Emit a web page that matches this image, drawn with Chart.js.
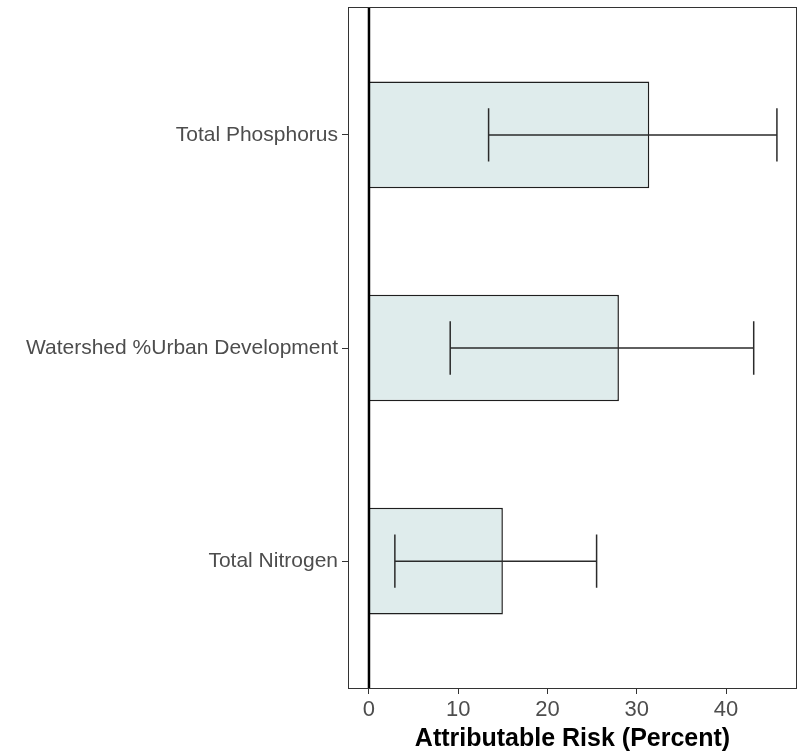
<!DOCTYPE html>
<html>
<head>
<meta charset="utf-8">
<script src="https://cdn.jsdelivr.net/npm/chart.js@4"></script>
<style>
  html, body { margin: 0; padding: 0; background: #fff; }
  #wrap { width: 798px; height: 752px; }
</style>
</head>
<body>
<div id="wrap"><canvas id="chart" width="798" height="752"></canvas></div>
<script>
// data
var categories = ['Total Phosphorus', 'Watershed %Urban Development', 'Total Nitrogen'];
var riskValues = [31.4, 28.0, 15.0];
var lowerValues = [13.4, 9.1, 2.9];
var upperValues = [45.7, 43.1, 25.5];
var xTicks = [0, 10, 20, 30, 40];
var xTitle = 'Attributable Risk (Percent)';

var FONT = '"Liberation Sans", Arial, sans-serif';

// panel border, zero line and error bars
var extras = {
    id: 'extras',
    afterDatasetsDraw: function (chart) {
        var ctx = chart.ctx;
        var xs = chart.scales.x;
        var ys = chart.scales.y;
        var area = chart.chartArea;

        ctx.save();

        // error bars
        ctx.strokeStyle = '#2b2b2b';
        ctx.lineWidth = 1.5;
        for (var i = 0; i < categories.length; i++) {
            var y = ys.getPixelForValue(i);
            var cap = Math.abs(ys.getPixelForValue(i + 0.125) - y);
            var x1 = xs.getPixelForValue(lowerValues[i]);
            var x2 = xs.getPixelForValue(upperValues[i]);
            ctx.beginPath();
            ctx.moveTo(x1, y);
            ctx.lineTo(x2, y);
            ctx.moveTo(x1, y - cap);
            ctx.lineTo(x1, y + cap);
            ctx.moveTo(x2, y - cap);
            ctx.lineTo(x2, y + cap);
            ctx.stroke();
        }

        // zero line
        var x0 = xs.getPixelForValue(0);
        ctx.strokeStyle = '#000';
        ctx.lineWidth = 2.5;
        ctx.beginPath();
        ctx.moveTo(x0, area.top);
        ctx.lineTo(x0, area.bottom);
        ctx.stroke();

        // panel border
        ctx.strokeStyle = '#333';
        ctx.lineWidth = 1;
        ctx.strokeRect(area.left + 0.5, area.top + 0.5, area.right - area.left - 1, area.bottom - area.top - 1);

        ctx.restore();
    }
};

var chart = new Chart(document.getElementById('chart').getContext('2d'), {
    type: 'bar',
    data: {
        datasets: [{
            data: riskValues.map(function (v, i) { return {x: v, y: i}; }),
            backgroundColor: '#dfecec',
            borderColor: '#1f1f1f',
            borderWidth: 1.5,
            categoryPercentage: 1,
            barPercentage: 0.5
        }]
    },
    options: {
        indexAxis: 'y',
        responsive: false,
        animation: false,
        devicePixelRatio: 1,
        layout: {padding: {top: 7, right: 1, left: 0, bottom: 0}},
        plugins: {
            legend: {display: false},
            tooltip: {enabled: false}
        },
        scales: {
            x: {
                type: 'linear',
                min: -2.35,
                max: 47.95,
                offset: false,
                afterBuildTicks: function (scale) {
                    scale.ticks = xTicks.map(function (v) { return {value: v}; });
                },
                afterFit: function (scale) {
                    scale.height = 63;
                    scale.paddingLeft = 0;
                    scale.paddingRight = 0;
                },
                border: {display: false},
                grid: {drawOnChartArea: false, drawTicks: true, tickLength: 5, tickColor: '#333', lineWidth: 1, offset: false},
                ticks: {
                    color: '#4d4d4d',
                    padding: 3,
                    maxRotation: 0,
                    font: {family: FONT, size: 22}
                },
                title: {
                    display: true,
                    text: xTitle,
                    color: '#000',
                    padding: {top: 0, bottom: -2},
                    font: {family: FONT, size: 25, weight: 'bold'}
                }
            },
            y: {
                type: 'linear',
                reverse: true,
                min: -0.6,
                max: 2.6,
                offset: false,
                afterBuildTicks: function (scale) {
                    scale.ticks = categories.map(function (c, i) { return {value: i}; });
                },
                afterFit: function (scale) {
                    scale.width = 348;
                    scale.paddingTop = 0;
                    scale.paddingBottom = 0;
                },
                border: {display: false},
                grid: {drawOnChartArea: false, drawTicks: true, tickLength: 6, tickColor: '#333', lineWidth: 1, offset: false},
                ticks: {
                    color: '#4d4d4d',
                    padding: 4,
                    font: {family: FONT, size: 21},
                    callback: function (value) { return categories[value]; }
                }
            }
        }
    },
    plugins: [extras]
});
</script>
</body>
</html>
